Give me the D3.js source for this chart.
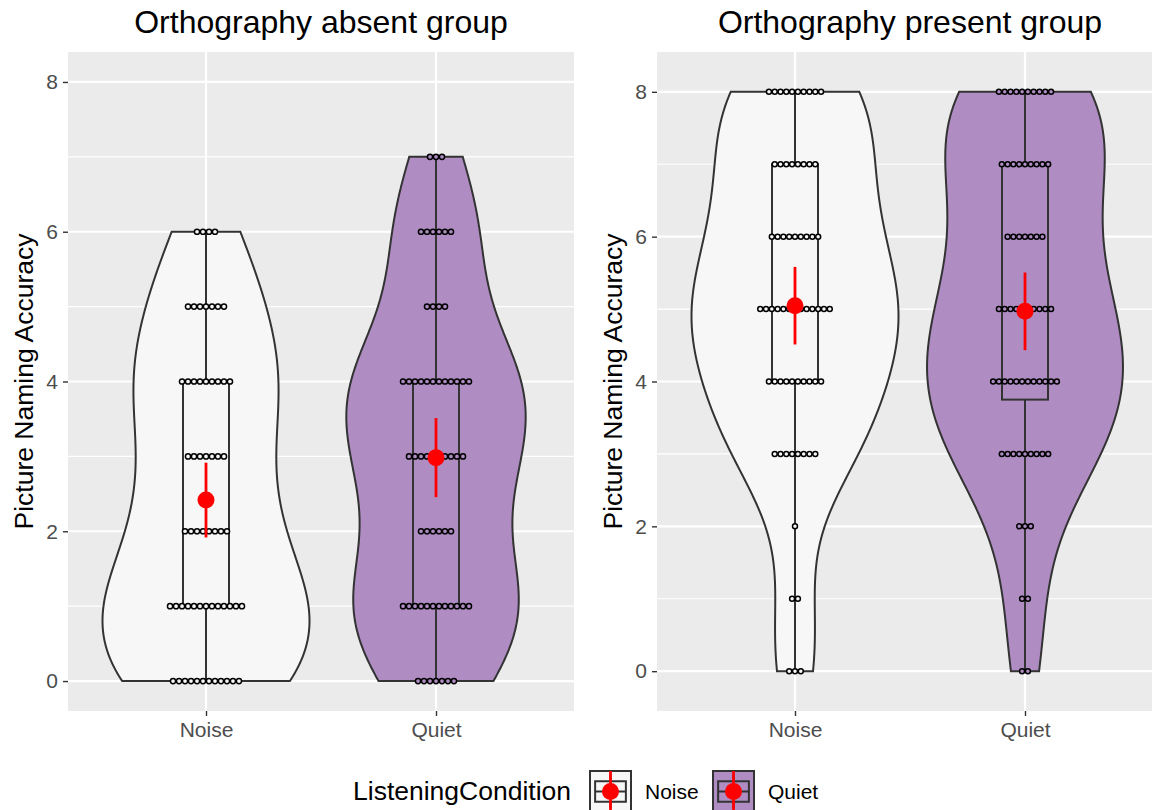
<!DOCTYPE html>
<html lang="en">
<head>
<meta charset="UTF-8">
<title>Picture Naming Accuracy by Listening Condition</title>
<script src="https://d3js.org/d3.v7.min.js"></script>
<style>
    body { margin: 0; background: #ffffff; font-family: "Liberation Sans", Arial, sans-serif; }
    svg { display: block; }
    .tick text { fill: #4d4d4d; font-size: 21px; }
    .tick line { stroke: #333333; stroke-width: 1.4; }
</style>
</head>
<body>
<svg id="chart"></svg>
<script>
// score levels (number of pictures named correctly) and how many participants got each
const levels = [0, 1, 2, 3, 4, 5, 6, 7, 8];
const conditions = ["Noise", "Quiet"];
const absentNoise  = [12, 13, 8, 7, 9, 7, 4, 0, 0];
const absentQuiet  = [7, 12, 6, 10, 12, 4, 6, 3, 0];
const presentNoise = [3, 2, 1, 8, 10, 13, 9, 8, 10];
const presentQuiet = [2, 2, 3, 9, 12, 10, 7, 9, 10];
const yTicks = [0, 2, 4, 6, 8];
const yMinor = [1, 3, 5, 7];
const fills = { Noise: "#f7f7f7", Quiet: "#af8dc3" };

const W = 1152, H = 810;
const panelW = 506, panelTop = 52, panelBottom = 711;
const panels = [
    { title: "Orthography absent group", x0: 68, yDomain: [-0.4, 8.4],
      counts: { Noise: absentNoise, Quiet: absentQuiet } },
    { title: "Orthography present group", x0: 657, yDomain: [-0.55, 8.55],
      counts: { Noise: presentNoise, Quiet: presentQuiet } }
];
const tCrit = 2.0;      // ~qt(0.975, n-1) for mean_cl_normal
const binwidth = 0.08;  // dotplot bin width in score units

const svg = d3.select("#chart").attr("width", W).attr("height", H);

function expand(counts) {
    const out = [];
    counts.forEach((c, i) => { for (let k = 0; k < c; k++) out.push(levels[i]); });
    return out;
}

// same bandwidth rule R uses by default
function bwNrd0(x) {
    const hi = d3.deviation(x);
    const iqr = d3.quantile(x, 0.75) - d3.quantile(x, 0.25);
    let lo = Math.min(hi, iqr / 1.34);
    if (!lo) lo = hi || 1;
    return 0.9 * lo * Math.pow(x.length, -0.2);
}

function density(x) {
    const bw = bwNrd0(x);
    const lo = d3.min(x), hi = d3.max(x);
    const pts = d3.range(512).map(i => lo + (hi - lo) * i / 511);
    return pts.map(t => [t, d3.mean(x, v => Math.exp(-0.5 * ((t - v) / bw) ** 2)) / (bw * Math.sqrt(2 * Math.PI))]);
}

panels.forEach((p, pi) => {
    const x = d3.scalePoint().domain(conditions).range([p.x0, p.x0 + panelW]).padding(0.6);
    const y = d3.scaleLinear().domain(p.yDomain).range([panelBottom, panelTop]);
    const unit = x.step();
    const g = svg.append("g");

    g.append("clipPath").attr("id", "clip" + pi)
        .append("rect").attr("x", p.x0).attr("y", panelTop).attr("width", panelW).attr("height", panelBottom - panelTop);

    g.append("rect")
        .attr("x", p.x0).attr("y", panelTop)
        .attr("width", panelW).attr("height", panelBottom - panelTop)
        .attr("fill", "#ebebeb");

    // grid
    g.selectAll(".minor").data(yMinor).join("line")
        .attr("x1", p.x0).attr("x2", p.x0 + panelW)
        .attr("y1", d => y(d)).attr("y2", d => y(d))
        .attr("stroke", "#ffffff").attr("stroke-width", 1.1);
    g.selectAll(".major").data(yTicks).join("line")
        .attr("x1", p.x0).attr("x2", p.x0 + panelW)
        .attr("y1", d => y(d)).attr("y2", d => y(d))
        .attr("stroke", "#ffffff").attr("stroke-width", 2.2);
    g.selectAll(".vmajor").data(conditions).join("line")
        .attr("x1", d => x(d)).attr("x2", d => x(d))
        .attr("y1", panelTop).attr("y2", panelBottom)
        .attr("stroke", "#ffffff").attr("stroke-width", 2.2);

    const groups = conditions.map(c => {
        const vals = expand(p.counts[c]);
        const n = vals.length;
        const mean = d3.mean(vals);
        const se = d3.deviation(vals) / Math.sqrt(n);
        return {
            cond: c, vals, dens: density(vals),
            q1: d3.quantile(vals, 0.25), med: d3.quantile(vals, 0.5), q3: d3.quantile(vals, 0.75),
            min: d3.min(vals), max: d3.max(vals),
            mean, lo: mean - tCrit * se, hi: mean + tCrit * se
        };
    });
    const maxDens = d3.max(groups, gr => d3.max(gr.dens, d => d[1]));

    const plot = g.append("g").attr("clip-path", "url(#clip" + pi + ")");
    const line = d3.line();

    groups.forEach(gr => {
        const cx = x(gr.cond);
        const hw = d => 0.45 * unit * d / maxDens;
        const left = gr.dens.map(([v, d]) => [cx - hw(d), y(v)]);
        const right = gr.dens.map(([v, d]) => [cx + hw(d), y(v)]).reverse();

        // violin
        plot.append("path")
            .attr("d", line(left.concat(right)) + "Z")
            .attr("fill", fills[gr.cond])
            .attr("stroke", "#333333").attr("stroke-width", 2);

        // boxplot
        const bw = 0.1 * unit;
        const box = plot.append("g").attr("stroke", "#333333").attr("stroke-width", 2).attr("fill", "none");
        box.append("line").attr("x1", cx).attr("x2", cx).attr("y1", y(gr.min)).attr("y2", y(gr.q1));
        box.append("line").attr("x1", cx).attr("x2", cx).attr("y1", y(gr.q3)).attr("y2", y(gr.max));
        box.append("rect").attr("x", cx - bw).attr("width", 2 * bw)
            .attr("y", y(gr.q3)).attr("height", y(gr.q1) - y(gr.q3));
        box.append("line").attr("x1", cx - bw).attr("x2", cx + bw).attr("y1", y(gr.med)).attr("y2", y(gr.med));

        // dotplot, centred stacks
        const dotD = y(0) - y(binwidth);
        const dots = [];
        p.counts[gr.cond].forEach((c, i) => {
            for (let k = 0; k < c; k++) dots.push({ v: levels[i], off: (k - (c - 1) / 2) * dotD });
        });
        plot.append("g").selectAll("circle").data(dots).join("circle")
            .attr("cx", d => cx + d.off)
            .attr("cy", d => y(d.v))
            .attr("r", dotD / 2 - 0.4)
            .attr("fill", fills[gr.cond])
            .attr("stroke", "#000000").attr("stroke-width", 1.5);

        // mean and 95% CI
        plot.append("line")
            .attr("x1", cx).attr("x2", cx).attr("y1", y(gr.lo)).attr("y2", y(gr.hi))
            .attr("stroke", "#ff0000").attr("stroke-width", 2.8);
        plot.append("circle")
            .attr("cx", cx).attr("cy", y(gr.mean)).attr("r", 8.5)
            .attr("fill", "#ff0000");
    });

    // axes
    g.append("g")
        .attr("transform", "translate(" + p.x0 + ",0)")
        .call(d3.axisLeft(y).tickValues(yTicks).tickSize(5).tickPadding(5))
        .call(a => a.select(".domain").remove())
        .selectAll("text").attr("font-family", "Liberation Sans, Arial, sans-serif");

    g.append("g")
        .attr("transform", "translate(0," + panelBottom + ")")
        .call(d3.axisBottom(x).tickSize(5).tickPadding(6))
        .call(a => a.select(".domain").remove())
        .selectAll("text").attr("font-family", "Liberation Sans, Arial, sans-serif");

    g.append("text")
        .attr("x", p.x0 + panelW / 2).attr("y", 33)
        .attr("text-anchor", "middle")
        .attr("font-size", "32px").attr("fill", "#000")
        .text(p.title);

    g.append("text")
        .attr("transform", "translate(" + (p.x0 - 35) + "," + ((panelTop + panelBottom) / 2) + ") rotate(-90)")
        .attr("text-anchor", "middle")
        .attr("font-size", "26.5px").attr("fill", "#000")
        .text("Picture Naming Accuracy");
});

// legend
const legend = svg.append("g");
legend.append("text")
    .attr("x", 353).attr("y", 800)
    .attr("font-size", "26.5px").attr("fill", "#000")
    .text("ListeningCondition");

const keyX = { Noise: 590, Quiet: 713 };
const keyS = 41, keyY = 771;
conditions.forEach(c => {
    const k = legend.append("g").attr("transform", "translate(" + keyX[c] + "," + keyY + ")");
    k.append("rect").attr("width", keyS).attr("height", keyS)
        .attr("fill", fills[c]).attr("stroke", "#333333").attr("stroke-width", 2);
    const b = k.append("g").attr("stroke", "#333333").attr("stroke-width", 2).attr("fill", "none");
    b.append("rect").attr("x", keyS * 0.125).attr("y", keyS * 0.25)
        .attr("width", keyS * 0.75).attr("height", keyS * 0.5);
    b.append("line").attr("x1", keyS * 0.125).attr("x2", keyS * 0.875).attr("y1", keyS / 2).attr("y2", keyS / 2);
    b.append("line").attr("x1", keyS / 2).attr("x2", keyS / 2).attr("y1", keyS * 0.1).attr("y2", keyS * 0.25);
    b.append("line").attr("x1", keyS / 2).attr("x2", keyS / 2).attr("y1", keyS * 0.75).attr("y2", keyS * 0.9);
    k.append("line").attr("x1", keyS / 2).attr("x2", keyS / 2).attr("y1", 0).attr("y2", keyS)
        .attr("stroke", "#ff0000").attr("stroke-width", 2.8);
    k.append("circle").attr("cx", keyS / 2).attr("cy", keyS / 2).attr("r", 8.5).attr("fill", "#ff0000");
    legend.append("text")
        .attr("x", keyX[c] + keyS + 14).attr("y", 799)
        .attr("font-size", "21px").attr("fill", "#000")
        .text(c);
});
</script>
</body>
</html>
